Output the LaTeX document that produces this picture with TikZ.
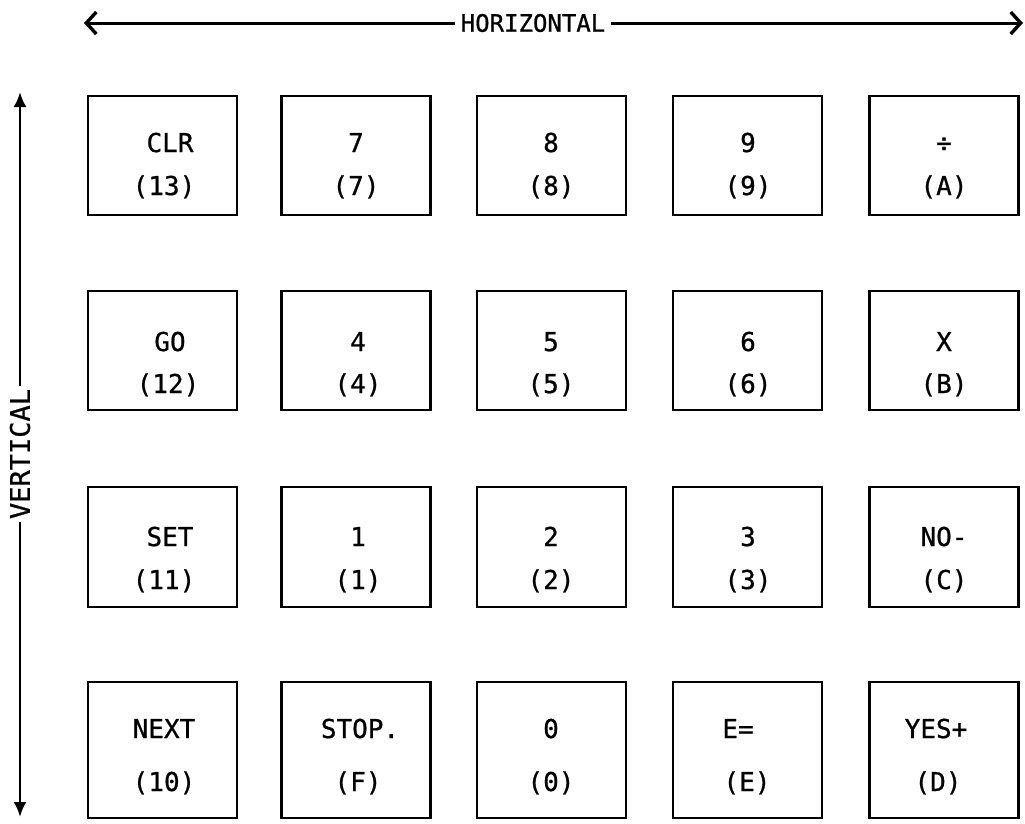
\documentclass[tikz,border=0pt]{standalone}
\usepackage{fontspec}
\newfontfamily\keyfont[FakeBold=0.8]{DejaVu Sans Mono}
\usetikzlibrary{arrows.meta}
\begin{document}
\begin{tikzpicture}[x=1pt,y=-1pt,
  keybox/.style={draw,line width=2.8pt,minimum width=149pt,inner sep=0pt},
  lbl/.style={font=\keyfont\fontsize{26}{26}\selectfont,inner sep=0pt,anchor=base},
  axis/.style={font=\keyfont\fontsize{24}{24}\selectfont,inner xsep=6pt,inner ysep=0pt},
  harrow/.style={line width=3pt,-{Straight Barb[length=10pt,width=22pt,line width=3.4pt]}},
  varrow/.style={line width=2.8pt,-{Latex[length=15pt,width=13pt]}}]
\useasboundingbox (0,0) rectangle (1025,823);
% axes
\node[axis] (htext) at (533,23) {HORIZONTAL};
\coordinate (hl) at (84,23);
\coordinate (hr) at (1023,23);
\draw[harrow] (htext.west) -- (hl);
\draw[harrow] (htext.east) -- (hr);
\node[axis,rotate=90,inner xsep=3pt,font=\keyfont\fontsize{27}{27}\selectfont] (vtext) at (20,454) {VERTICAL};
\coordinate (vt) at (20,92);
\coordinate (vb) at (20,817);
\draw[varrow] (vtext.east) -- (vt);
\draw[varrow] (vtext.west) -- (vb);
% row 1
\node[keybox,minimum height=119pt] (k11) at (162.5,155.5) {};
\node[keybox,minimum height=119pt] (k12) at (356,155.5) {};
\node[keybox,minimum height=119pt] (k13) at (551.5,155.5) {};
\node[keybox,minimum height=119pt] (k14) at (747.5,155.5) {};
\node[keybox,minimum height=119pt] (k15) at (944,155.5) {};
% row 2
\node[keybox,minimum height=119pt] (k21) at (162.5,350.5) {};
\node[keybox,minimum height=119pt] (k22) at (356,350.5) {};
\node[keybox,minimum height=119pt] (k23) at (551.5,350.5) {};
\node[keybox,minimum height=119pt] (k24) at (747.5,350.5) {};
\node[keybox,minimum height=119pt] (k25) at (944,350.5) {};
% row 3
\node[keybox,minimum height=120pt] (k31) at (162.5,547) {};
\node[keybox,minimum height=120pt] (k32) at (356,547) {};
\node[keybox,minimum height=120pt] (k33) at (551.5,547) {};
\node[keybox,minimum height=120pt] (k34) at (747.5,547) {};
\node[keybox,minimum height=120pt] (k35) at (944,547) {};
% row 4
\node[keybox,minimum height=136pt] (k41) at (162.5,750) {};
\node[keybox,minimum height=136pt] (k42) at (356,750) {};
\node[keybox,minimum height=136pt] (k43) at (551.5,750) {};
\node[keybox,minimum height=136pt] (k44) at (747.5,750) {};
\node[keybox,minimum height=136pt] (k45) at (944,750) {};
% labels row 1
\node[lbl] (t11a) at (170,152) {CLR};   \node[lbl] (t11b) at (164,195) {(13)};
\node[lbl] (t12a) at (356,152) {7};     \node[lbl] (t12b) at (356,195) {(7)};
\node[lbl] (t13a) at (551,152) {8};     \node[lbl] (t13b) at (551,195) {(8)};
\node[lbl] (t14a) at (748,152) {9};     \node[lbl] (t14b) at (748,195) {(9)};
\node[lbl] (t15a) at (944,152) {÷};     \node[lbl] (t15b) at (944,195) {(A)};
% labels row 2
\node[lbl] (t21a) at (170,351) {GO};    \node[lbl] (t21b) at (168,393) {(12)};
\node[lbl] (t22a) at (358,351) {4};     \node[lbl] (t22b) at (358,393) {(4)};
\node[lbl] (t23a) at (551,351) {5};     \node[lbl] (t23b) at (551,393) {(5)};
\node[lbl] (t24a) at (748,351) {6};     \node[lbl] (t24b) at (748,393) {(6)};
\node[lbl] (t25a) at (944,351) {X};     \node[lbl] (t25b) at (944,393) {(B)};
% labels row 3
\node[lbl] (t31a) at (170,546) {SET};   \node[lbl] (t31b) at (164,589) {(11)};
\node[lbl] (t32a) at (358,546) {1};     \node[lbl] (t32b) at (358,589) {(1)};
\node[lbl] (t33a) at (551,546) {2};     \node[lbl] (t33b) at (551,589) {(2)};
\node[lbl] (t34a) at (748,546) {3};     \node[lbl] (t34b) at (748,589) {(3)};
\node[lbl] (t35a) at (944,546) {NO-};   \node[lbl] (t35b) at (944,589) {(C)};
% labels row 4
\node[lbl] (t41a) at (164,738) {NEXT};  \node[lbl] (t41b) at (164,791) {(10)};
\node[lbl] (t42a) at (360,738) {STOP.}; \node[lbl] (t42b) at (358,791) {(F)};
\node[lbl] (t43a) at (551,738) {0};     \node[lbl] (t43b) at (551,791) {(0)};
\node[lbl] (t44a) at (738,738) {E=};    \node[lbl] (t44b) at (747,791) {(E)};
\node[lbl] (t45a) at (936,738) {YES+};  \node[lbl] (t45b) at (938,791) {(D)};
\end{tikzpicture}
\end{document}
